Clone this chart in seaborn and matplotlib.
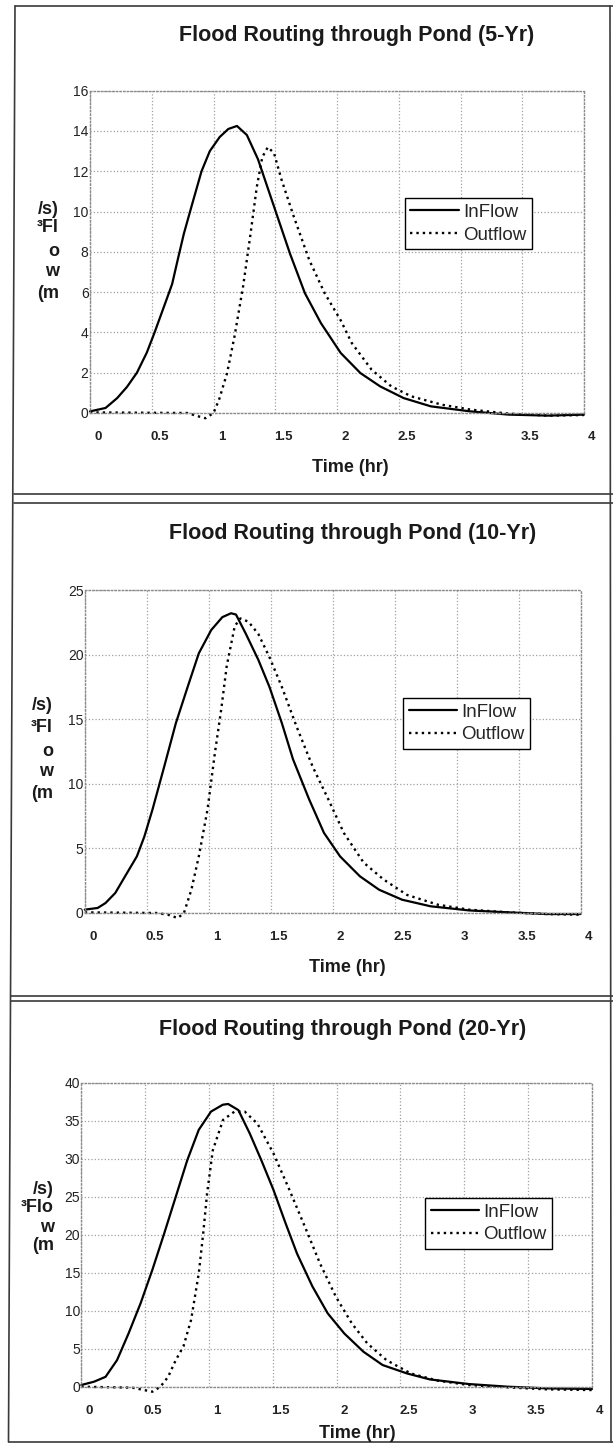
"""
    Redraws the three scanned pond flood-routing hydrographs (5, 10 and 20 year storms)
"""

import numpy as np
import pandas as pd
import seaborn as sns
import matplotlib.pyplot as plt
import matplotlib.transforms as mtransforms
from matplotlib.lines import Line2D

# values (time in hr, flow in m3/s)
t_in_5 = [0, 0.126, 0.22, 0.3, 0.38, 0.46, 0.523, 0.6, 0.665, 0.71, 0.76, 0.824, 0.903, 0.97, 1.05, 1.12, 1.19,
          1.27, 1.36, 1.49, 1.62, 1.74, 1.87, 2.03, 2.19, 2.35, 2.54, 2.76, 3.08, 3.39, 3.71, 4.0]
q_in_5 = [0.08, 0.25, 0.74, 1.3, 2.0, 3.0, 4.0, 5.3, 6.4, 7.6, 8.9, 10.3, 12.0, 13.0, 13.7, 14.1, 14.25,
          13.8, 12.6, 10.25, 7.9, 5.95, 4.46, 2.98, 1.98, 1.32, 0.74, 0.33, 0.08, -0.08, -0.13, -0.08]
t_out_5 = [0, 0.79, 0.856, 0.935, 1.0, 1.045, 1.11, 1.17, 1.24, 1.3, 1.35, 1.395, 1.44, 1.49, 1.55, 1.65, 1.775,
           1.9, 2.03, 2.12, 2.28, 2.44, 2.6, 2.85, 3.08, 3.39, 3.71, 4.0]
q_out_5 = [0.03, 0, -0.13, -0.26, 0, 0.66, 1.98, 3.8, 6.3, 8.9, 11.2, 12.7, 13.2, 12.9, 11.6, 9.75, 7.6,
           5.95, 4.6, 3.47, 2.15, 1.32, 0.83, 0.41, 0.17, -0.03, -0.13, -0.1]

t_in_10 = [0, 0.104, 0.167, 0.246, 0.325, 0.42, 0.48, 0.546, 0.64, 0.735, 0.83, 0.92, 1.02, 1.11, 1.18, 1.22,
           1.3, 1.4, 1.49, 1.59, 1.68, 1.81, 1.93, 2.06, 2.22, 2.375, 2.56, 2.79, 3.1, 3.42, 3.73, 4.0]
q_in_10 = [0.26, 0.39, 0.77, 1.55, 2.84, 4.38, 5.9, 8.0, 11.3, 14.7, 17.5, 20.1, 21.9, 22.9, 23.2, 23.1,
           21.6, 19.6, 17.5, 14.7, 11.9, 8.8, 6.2, 4.38, 2.84, 1.8, 1.03, 0.52, 0.2, 0.05, -0.08, -0.08]
t_out_10 = [0, 0.58, 0.67, 0.75, 0.8, 0.86, 0.92, 0.99, 1.05, 1.1, 1.145, 1.21, 1.255, 1.32, 1.4, 1.49, 1.59,
            1.71, 1.84, 1.965, 2.09, 2.25, 2.41, 2.6, 2.85, 3.1, 3.42, 3.73, 4.0]
q_out_10 = [0.05, 0, -0.13, -0.39, 0, 1.8, 4.38, 8.0, 12.4, 15.7, 19.1, 22.2, 22.8, 22.55, 21.6, 19.8, 17.5,
            14.4, 11.3, 8.8, 6.2, 3.9, 2.6, 1.4, 0.64, 0.26, 0.05, -0.08, -0.13]

t_in_20 = [0, 0.1, 0.19, 0.28, 0.37, 0.465, 0.557, 0.65, 0.74, 0.83, 0.92, 1.016, 1.108, 1.15, 1.23, 1.32,
           1.41, 1.505, 1.6, 1.69, 1.81, 1.93, 2.06, 2.21, 2.36, 2.55, 2.73, 3.035, 3.34, 3.65, 4.0]
q_in_20 = [0.22, 0.66, 1.3, 3.5, 7.0, 11.0, 15.4, 20.2, 25.0, 29.8, 33.8, 36.2, 37.1, 37.2, 36.4, 33.3,
           29.8, 25.9, 21.5, 17.5, 13.2, 9.65, 7.0, 4.6, 2.85, 1.75, 0.96, 0.35, 0, -0.22, -0.3]
t_out_20 = [0, 0.4, 0.557, 0.62, 0.68, 0.74, 0.8, 0.86, 0.92, 0.955, 0.985, 1.03, 1.11, 1.2, 1.28, 1.38, 1.505,
            1.63, 1.75, 1.87, 1.995, 2.12, 2.24, 2.39, 2.58, 2.79, 3.035, 3.34, 3.65, 4.0]
q_out_20 = [0, -0.13, -0.66, 0, 1.3, 3.5, 5.3, 8.8, 14.9, 20.2, 25.4, 31.1, 35.1, 36.2, 36.2, 34.6, 30.7,
            25.9, 21.1, 16.2, 11.8, 8.3, 5.7, 3.5, 1.75, 0.8, 0.22, -0.09, -0.35, -0.44]

titles = ['Flood Routing through Pond (5-Yr)', 'Flood Routing through Pond (10-Yr)',
          'Flood Routing through Pond (20-Yr)']
y_max = [16, 25, 40]
y_step = [2, 5, 5]
x_ticks = [0, 0.5, 1, 1.5, 2, 2.5, 3, 3.5, 4]
x_tick_labels = ['0', '0.5', '1', '1.5', '2', '2.5', '3', '3.5', '4']
series_names = ['InFlow', 'Outflow']

sns.set_style("white")
plt.rcParams['font.family'] = ['Liberation Sans', 'DejaVu Sans']

W, H = 613, 1451
fig = plt.figure(figsize=(W / 100, H / 100), dpi=100)


def px_axes(left, top, right, bottom):
    return fig.add_axes([left / W, 1 - bottom / H, (right - left) / W, (bottom - top) / H])


def px_text(x, y, s, **kw):
    fig.text(x / W, 1 - y / H, s, **kw)


# layout of each panel in pixels: axes box, legend anchor, title, x label, stacked y label
panels = [
    dict(box=(90, 90.7, 584, 413), leg=(0.637, 0.667), title=(357, 35), xlab=(350, 467),
         ylab_right=59, ylab=[('/s)', 209), ('³Fl', 228), ('o', 252), ('w', 272), ('(m', 293)]),
    dict(box=(84.8, 590, 580.5, 913), leg=(0.642, 0.666), title=(353, 533), xlab=(347, 967),
         ylab_right=53, ylab=[('/s)', 705), ('³Fl', 728), ('o', 751), ('w', 772), ('(m', 793)]),
    dict(box=(81.3, 1082.7, 592, 1386.7), leg=(0.673, 0.621), title=(343, 1030), xlab=(357, 1433),
         ylab_right=54, ylab=[('/s)', 1190), ('³Flo', 1208), ('w', 1227), ('(m', 1245)]),
]
curves = [(t_in_5, q_in_5, t_out_5, q_out_5),
          (t_in_10, q_in_10, t_out_10, q_out_10),
          (t_in_20, q_in_20, t_out_20, q_out_20)]

for i, p in enumerate(panels):
    ax = px_axes(*p['box'])
    t_in, q_in, t_out, q_out = curves[i]
    sns.lineplot(x=t_in, y=q_in, ax=ax, color='black', lw=1.6, sort=False, estimator=None,
                 solid_joinstyle='round', label=series_names[0])
    sns.lineplot(x=t_out, y=q_out, ax=ax, color='black', lw=1.7, sort=False, estimator=None,
                 linestyle=(0, (1, 1.7)), label=series_names[1])
    for ln in ax.lines:
        ln.set_clip_on(False)

    ax.set_xlim(0, 4)
    ax.set_ylim(0, y_max[i])
    ax.set_yticks(np.arange(0, y_max[i] + 0.1, y_step[i]))
    ax.set_yticklabels([str(int(v)) for v in np.arange(0, y_max[i] + 0.1, y_step[i])], fontsize=10,
                       color='#222222')
    ax.set_xticks(x_ticks)
    ax.set_xticklabels(x_tick_labels, fontsize=9.5, fontweight='bold', color='#222222')
    ax.tick_params(axis='x', length=0, pad=13)
    ax.tick_params(axis='y', length=0, pad=1)
    # the scanned tick labels sit a little right of their gridlines
    offset = mtransforms.ScaledTranslation(8 / 100, 0, fig.dpi_scale_trans)
    for lab in ax.get_xticklabels():
        lab.set_transform(lab.get_transform() + offset)

    ax.grid(True, color='#a0a0a0', linestyle=':', linewidth=0.9)
    for sp in ax.spines.values():
        sp.set_color('#8a8a8a')
        sp.set_linestyle(':')
        sp.set_linewidth(1.0)
    ax.set_xlabel('')
    ax.set_ylabel('')

    leg = ax.legend(loc='upper left', bbox_to_anchor=p['leg'], borderaxespad=0, fontsize=13.5,
                    handlelength=2.6, handletextpad=0.2, borderpad=0.3, labelspacing=0.3,
                    frameon=True, fancybox=False, framealpha=1)
    leg.get_frame().set_edgecolor('black')
    leg.get_frame().set_linewidth(1.0)

    px_text(p['title'][0], p['title'][1], titles[i], fontsize=15.5, fontweight='bold',
            ha='center', va='center', color='#1a1a1a')
    px_text(p['xlab'][0], p['xlab'][1], 'Time (hr)', fontsize=13, fontweight='bold',
            ha='center', va='center', color='#1a1a1a')
    for s, yy in p['ylab']:
        px_text(p['ylab_right'], yy, s, fontsize=13, fontweight='bold', ha='right', va='center',
                color='#1a1a1a')

# page borders of the scanned sheet
frame_lines = [
    ((15, 8.5), (6, 1442)),
    ((610, 611), (6, 1442)),
    ((15, 613), (6, 6)),
    ((14, 613), (494, 494)),
    ((14, 613), (503, 503)),
    ((11, 613), (996, 996)),
    ((11, 613), (1001, 1001)),
    ((8.5, 613), (1442, 1442)),
]
for xs, ys in frame_lines:
    fig.add_artist(Line2D([x / W for x in xs], [1 - y / H for y in ys], color='#3a3a3a', lw=1.2))

plt.savefig('out.png', dpi=100)
